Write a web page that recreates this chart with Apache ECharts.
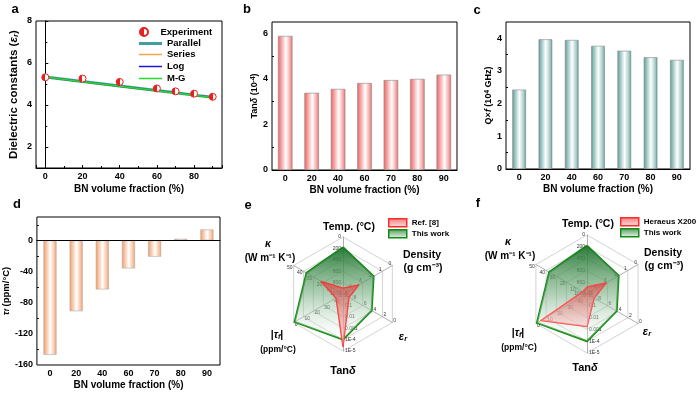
<!DOCTYPE html>
<html><head><meta charset="utf-8">
<script src="https://cdn.jsdelivr.net/npm/echarts@6/dist/echarts.min.js"></script>
<style>html,body{margin:0;padding:0;background:#fff}#c{width:700px;height:394px}</style>
</head><body><div id="c"></div>
<script>
// ---------- data ----------
const bnCategories = ['0', '20', '40', '60', '70', '80', '90'];
const bnX = [0, 20, 40, 60, 70, 80, 90];
const epsExperiment = [5.32, 5.26, 5.10, 4.79, 4.65, 4.54, 4.39];
const epsParallel = [5.33, 5.12, 4.90, 4.69, 4.58, 4.47, 4.37];
const epsSeries = [5.33, 5.10, 4.88, 4.67, 4.57, 4.47, 4.37];
const epsLog = [5.33, 5.11, 4.89, 4.68, 4.58, 4.47, 4.37];
const epsMG = [5.33, 5.11, 4.89, 4.68, 4.57, 4.46, 4.36];
const tanDelta = [5.89, 3.39, 3.56, 3.82, 3.95, 4.00, 4.19];
const qf = [2.43, 3.97, 3.95, 3.77, 3.62, 3.42, 3.34];
const tauF = [-147, -91, -63, -36, -21, 2, 14];
const legendA = ['Experiment', 'Parallel', 'Series', 'Log', 'M-G'];
// radar indicators (counter-clockwise from top): Temp, kappa, |tau_f|, tan delta, eps_r, density
const radarIndicatorNames = ['Temp. (°C)', 'κ (W m⁻¹ K⁻¹)', '|τf| (ppm/°C)', 'Tanδ', 'εr', 'Density (g cm⁻³)'];
const tanTickLabels = ['1', '0.1', '0.01', '0.001', '1E-4', '1E-5'];
const thisWork = [180, 37, 1, 1.0e-4, 4.2, 1.9];
const ref8 = [900, 22, 43, 2.5e-5, 8.8, 3.4];
const heraeus = [880, 4, 5, 1.8e-3, 8.6, 3.1];
const seriesNamesE = ['Ref. [8]', 'This work'];
const seriesNamesF = ['Heraeus X200', 'This work'];

// ---------- helpers ----------
const FF = '"Liberation Sans", Arial, Helvetica, sans-serif';
const zip = (xs, ys) => xs.map((x, i) => [x, ys[i]]);
const toRadar = v => [1000 - v[0], v[1], 50 - v[2], -Math.log10(v[3]), 10 - v[4], 5 - v[5]];
const hGrad = stops => ({type: 'linear', x: 0, y: 0, x2: 1, y2: 0, colorStops: stops.map(s => ({offset: s[0], color: s[1]}))});
const vGrad = stops => ({type: 'linear', x: 0, y: 0, x2: 0, y2: 1, colorStops: stops.map(s => ({offset: s[0], color: s[1]}))});

const redBar = hGrad([[0, '#ef6464'], [0.15, '#f38a8a'], [0.55, '#ffffff'], [0.85, '#f4a6a6'], [1, '#ec6a6a']]);
const tealBar = hGrad([[0, '#55998f'], [0.15, '#8abab6'], [0.52, '#ffffff'], [0.85, '#a3cac6'], [1, '#55998f']]);
const orangeBar = hGrad([[0, '#f39660'], [0.15, '#f6b790'], [0.52, '#ffffff'], [0.85, '#f7c3a2'], [1, '#f39660']]);
const halfDot = hGrad([[0, '#e82020'], [0.5, '#e82020'], [0.5, '#ffffff'], [1, '#ffffff']]);
const greenArea = vGrad([[0, 'rgba(30,115,45,0.95)'], [0.5, 'rgba(120,175,130,0.6)'], [1, 'rgba(255,255,255,0.2)']]);
const redArea = vGrad([[0, 'rgba(215,70,70,0.7)'], [0.6, 'rgba(235,140,140,0.55)'], [1, 'rgba(250,200,200,0.5)']]);
const redLegend = vGrad([[0, '#f07a7a'], [1, '#fde4e4']]);
const greenLegend = vGrad([[0, '#4a9a58'], [1, '#f2f8f2']]);
const lineColors = {Parallel: '#3f9f9b', Series: '#f5a54a', Log: '#1818dd', 'M-G': '#22dd22'};

const tickLabel = {fontSize: 9, fontWeight: 'bold', color: '#000', fontFamily: FF, margin: 4};
const axisNameStyle = {fontSize: 10, fontWeight: 'bold', color: '#000', fontFamily: FF};
const blackLine = {lineStyle: {color: '#000', width: 1}};
const inTick = {inside: true, length: 3, lineStyle: {color: '#000'}};
const minor = {show: true, splitNumber: 2, length: 2, lineStyle: {color: '#000'}};
const legendText = {fontSize: 9.5, fontWeight: 'bold', color: '#000', fontFamily: FF};

function richName(size) {
  return {
    n: {fontSize: size, fontWeight: 'bold', fontFamily: FF, color: '#000'},
    i: {fontSize: size, fontWeight: 'bold', fontStyle: 'italic', fontFamily: FF, color: '#000'},
    s: {fontSize: size * 0.7, fontWeight: 'bold', fontStyle: 'italic', fontFamily: FF, color: '#000', verticalAlign: 'bottom', lineHeight: size * 0.8},
    p: {fontSize: size * 0.7, fontWeight: 'bold', fontFamily: FF, color: '#000', verticalAlign: 'top', lineHeight: size * 0.8}
  };
}

function catX(gi) {
  return {gridIndex: gi, type: 'category', data: bnCategories, axisLine: blackLine, axisTick: {show: false},
    axisLabel: tickLabel, name: 'BN volume fraction (%)', nameLocation: 'middle', nameGap: 15, nameTextStyle: axisNameStyle};
}

function indicators() {
  const fmt = [
    v => String(Math.round(1000 - v)),
    v => String(Math.round(v)),
    v => String(Math.round(50 - v)),
    v => tanTickLabels[Math.round(v)],
    v => String(Math.round(10 - v)),
    v => String(Math.round(5 - v))
  ];
  const maxes = [1000, 50, 50, 5, 10, 5];
  return radarIndicatorNames.map((n, i) => ({name: n, min: 0, max: maxes[i], axisLabel: {formatter: fmt[i]}}));
}

function radarOpt(center, r) {
  return {
    center: center, radius: r, startAngle: 90, shape: 'polygon', splitNumber: 5,
    indicator: indicators(),
    axisName: {show: false},
    splitLine: {lineStyle: {color: '#c8c8c8', width: 0.8}},
    splitArea: {show: false},
    axisLine: {lineStyle: {color: '#9a9a9a', width: 0.8}},
    axisTick: {show: false},
    axisLabel: {show: true, fontSize: 5, color: '#333', fontFamily: FF, margin: 2}
  };
}

function txt(x, y, text, size) {
  return {type: 'text', x: x, y: y, silent: true, z: 100,
    style: {text: text, fontSize: size, fontWeight: 'bold', fontFamily: FF, fill: '#000', align: 'center', verticalAlign: 'middle', rich: richName(size)}};
}

const graphics = [
  txt(15, 9, 'a', 13), txt(247, 9, 'b', 13), txt(477, 10, 'c', 13),
  txt(17, 204, 'd', 13), txt(248, 205, 'e', 13), txt(478, 203, 'f', 13)
];
function radarLabels(pos) {
  return [
    txt(pos.temp[0], pos.temp[1], 'Temp. (°C)', 10.5),
    txt(pos.dens[0], pos.dens[1], 'Density', 10.5),
    txt(pos.dens[0] + 1, pos.dens[1] + 13, '(g cm⁻³)', 10.5),
    txt(pos.eps[0], pos.eps[1], '{i|ε}{s|r}', 11),
    txt(pos.tan[0], pos.tan[1], '{n|Tan}{i|δ}', 11),
    txt(pos.tau[0], pos.tau[1], '{n||}{i|τ}{s|f}{n||}', 10.5),
    txt(pos.tau[0] + 1, pos.tau[1] + 15, '(ppm/°C)', 8.5),
    txt(pos.kap[0], pos.kap[1], '{i|κ}', 10.5),
    txt(pos.kap[0] + 2, pos.kap[1] + 14, '(W m⁻¹ K⁻¹)', 10)
  ];
}
graphics.push(...radarLabels({temp: [349, 227], dens: [422, 255], eps: [403, 337], tan: [343, 371], tau: [277, 335], kap: [268, 244]}));
graphics.push(...radarLabels({temp: [588, 224], dens: [663, 253], eps: [647, 332], tan: [585, 368], tau: [518, 333], kap: [508, 242]}));

function lineLegend(names, top, h, gap) {
  return {data: names.map(n => ({name: n, icon: 'rect', itemStyle: {color: lineColors[n], borderWidth: 0}})),
    left: 139, top: top, orient: 'vertical', itemWidth: 23, itemHeight: h, itemGap: gap, padding: 0,
    selectedMode: false, textStyle: legendText};
}

const option = {
  animation: false,
  backgroundColor: '#fff',
  textStyle: {fontFamily: FF},
  grid: [
    {left: 36, right: 478, top: 21, bottom: 226, show: true, borderColor: '#000', borderWidth: 1},
    {left: 272, right: 243, top: 22, bottom: 224, show: true, borderColor: '#000', borderWidth: 1},
    {left: 506, right: 10, top: 22, bottom: 225, show: true, borderColor: '#000', borderWidth: 1},
    {left: 36, right: 480, top: 217, bottom: 29, show: true, borderColor: '#000', borderWidth: 1}
  ],
  xAxis: [
    {gridIndex: 0, type: 'value', min: -5, max: 95, axisLine: blackLine, axisTick: inTick, minorTick: minor,
      splitLine: {show: false}, axisLabel: Object.assign({showMinLabel: false, showMaxLabel: false}, tickLabel),
      name: 'BN volume fraction (%)', nameLocation: 'middle', nameGap: 16, nameTextStyle: axisNameStyle},
    catX(1), catX(2), catX(3)
  ],
  yAxis: [
    {gridIndex: 0, type: 'value', min: 1, max: 8, splitNumber: 3, axisLine: blackLine, axisTick: inTick, minorTick: minor,
      splitLine: {show: false}, axisLabel: Object.assign({showMinLabel: false}, tickLabel),
      name: '{n|Dielectric constants (}{i|ε}{s|r}{n|)}', nameLocation: 'middle', nameGap: 16,
      nameTextStyle: {rich: richName(11.5)}},
    {gridIndex: 1, type: 'value', min: 0, max: 6.5, interval: 2, axisLine: blackLine, axisTick: inTick, minorTick: minor,
      splitLine: {show: false}, axisLabel: Object.assign({showMaxLabel: false}, tickLabel),
      name: '{n|Tan}{i|δ}{n| (10}{p|-4}{n|)}', nameLocation: 'middle', nameGap: 10, nameTextStyle: {rich: richName(9)}},
    {gridIndex: 2, type: 'value', min: 0, max: 4.5, interval: 1, axisLine: blackLine, axisTick: inTick, minorTick: minor,
      splitLine: {show: false}, axisLabel: Object.assign({showMaxLabel: false}, tickLabel),
      name: '{n|Q×}{i|f}{n| (10}{p|4}{n| GHz)}', nameLocation: 'middle', nameGap: 13, nameTextStyle: {rich: richName(9)}},
    {gridIndex: 3, type: 'value', min: -160, max: 30, interval: 40, axisLine: blackLine, axisTick: inTick, minorTick: minor,
      splitLine: {show: false}, axisLabel: Object.assign({showMaxLabel: false}, tickLabel),
      name: '{i|τ}{s|f}{n| (ppm/°C)}', nameLocation: 'middle', nameGap: 22, nameTextStyle: {rich: richName(9.5)}}
  ],
  radar: [radarOpt([343, 294], 57), radarOpt([587, 294], 59)],
  legend: [
    {data: [legendA[0]], left: 139, top: 27, orient: 'vertical', itemWidth: 23, itemHeight: 8, padding: 0,
      selectedMode: false, textStyle: legendText},
    lineLegend([legendA[1]], 38.5, 3, 2),
    lineLegend(legendA.slice(2), 49.5, 1.5, 2),
    {data: [
        {name: seriesNamesE[0], icon: 'rect', itemStyle: {color: redLegend, borderColor: '#ff2a2a', borderWidth: 1.5}},
        {name: seriesNamesE[1], icon: 'rect', itemStyle: {color: greenLegend, borderColor: '#138a13', borderWidth: 1.5}}],
      left: 388, top: 218, orient: 'vertical', itemWidth: 18, itemHeight: 8, itemGap: 1.5, padding: 0, selectedMode: false,
      textStyle: {fontSize: 8, fontWeight: 'bold', color: '#000', fontFamily: FF}},
    {data: [
        {name: seriesNamesF[0], icon: 'rect', itemStyle: {color: redLegend, borderColor: '#ff2a2a', borderWidth: 1.5}},
        {name: seriesNamesF[1], icon: 'rect', itemStyle: {color: greenLegend, borderColor: '#138a13', borderWidth: 1.5}}],
      left: 620, top: 217, orient: 'vertical', itemWidth: 18, itemHeight: 8, itemGap: 1.5, padding: 0, selectedMode: false,
      textStyle: {fontSize: 8, fontWeight: 'bold', color: '#000', fontFamily: FF}}
  ],
  series: [
    {name: 'Parallel', type: 'line', xAxisIndex: 0, yAxisIndex: 0, data: zip(bnX, epsParallel), symbol: 'none',
      lineStyle: {color: lineColors.Parallel, width: 3}, itemStyle: {color: lineColors.Parallel}, z: 2},
    {name: 'Series', type: 'line', xAxisIndex: 0, yAxisIndex: 0, data: zip(bnX, epsSeries), symbol: 'none',
      lineStyle: {color: lineColors.Series, width: 1.5}, itemStyle: {color: lineColors.Series}, z: 3},
    {name: 'Log', type: 'line', xAxisIndex: 0, yAxisIndex: 0, data: zip(bnX, epsLog), symbol: 'none',
      lineStyle: {color: lineColors.Log, width: 1.5}, itemStyle: {color: lineColors.Log}, z: 3},
    {name: 'M-G', type: 'line', xAxisIndex: 0, yAxisIndex: 0, data: zip(bnX, epsMG), symbol: 'none',
      lineStyle: {color: lineColors['M-G'], width: 1.5}, itemStyle: {color: lineColors['M-G']}, z: 4},
    {name: 'Experiment', type: 'scatter', xAxisIndex: 0, yAxisIndex: 0, data: zip(bnX, epsExperiment), symbolSize: 7,
      itemStyle: {color: halfDot, borderColor: '#e52222', borderWidth: 1, opacity: 1}, z: 6},
    {type: 'bar', xAxisIndex: 1, yAxisIndex: 1, data: tanDelta, barWidth: '55%',
      itemStyle: {color: redBar, borderColor: '#8a8a8a', borderWidth: 0.6}},
    {type: 'bar', xAxisIndex: 2, yAxisIndex: 2, data: qf, barWidth: '52%',
      itemStyle: {color: tealBar, borderColor: '#8a8a8a', borderWidth: 0.6}},
    {type: 'bar', xAxisIndex: 3, yAxisIndex: 3, data: tauF, barWidth: '50%',
      itemStyle: {color: orangeBar, borderColor: '#b0b0b0', borderWidth: 0.6},
      markLine: {silent: true, symbol: ['none', 'none'], label: {show: false},
        lineStyle: {color: '#000', type: 'solid', width: 1}, data: [{yAxis: 0}]}},
    {type: 'radar', radarIndex: 0, symbol: 'none', data: [
      {name: seriesNamesE[1], value: toRadar(thisWork), lineStyle: {color: '#138a13', width: 2}, itemStyle: {color: '#138a13'}, areaStyle: {color: greenArea, opacity: 1}},
      {name: seriesNamesE[0], value: toRadar(ref8), lineStyle: {color: '#ff3535', width: 1.5}, itemStyle: {color: '#ff3535'}, areaStyle: {color: redArea, opacity: 1}}
    ]},
    {type: 'radar', radarIndex: 1, symbol: 'none', data: [
      {name: seriesNamesF[1], value: toRadar(thisWork), lineStyle: {color: '#138a13', width: 2}, itemStyle: {color: '#138a13'}, areaStyle: {color: greenArea, opacity: 1}},
      {name: seriesNamesF[0], value: toRadar(heraeus), lineStyle: {color: '#ff4a4a', width: 1.5}, itemStyle: {color: '#ff4a4a'}, areaStyle: {color: redArea, opacity: 1}}
    ]}
  ],
  graphic: graphics
};
const chart = echarts.init(document.getElementById('c'), null, {renderer: 'canvas'});
chart.setOption(option);
</script>
</body></html>
